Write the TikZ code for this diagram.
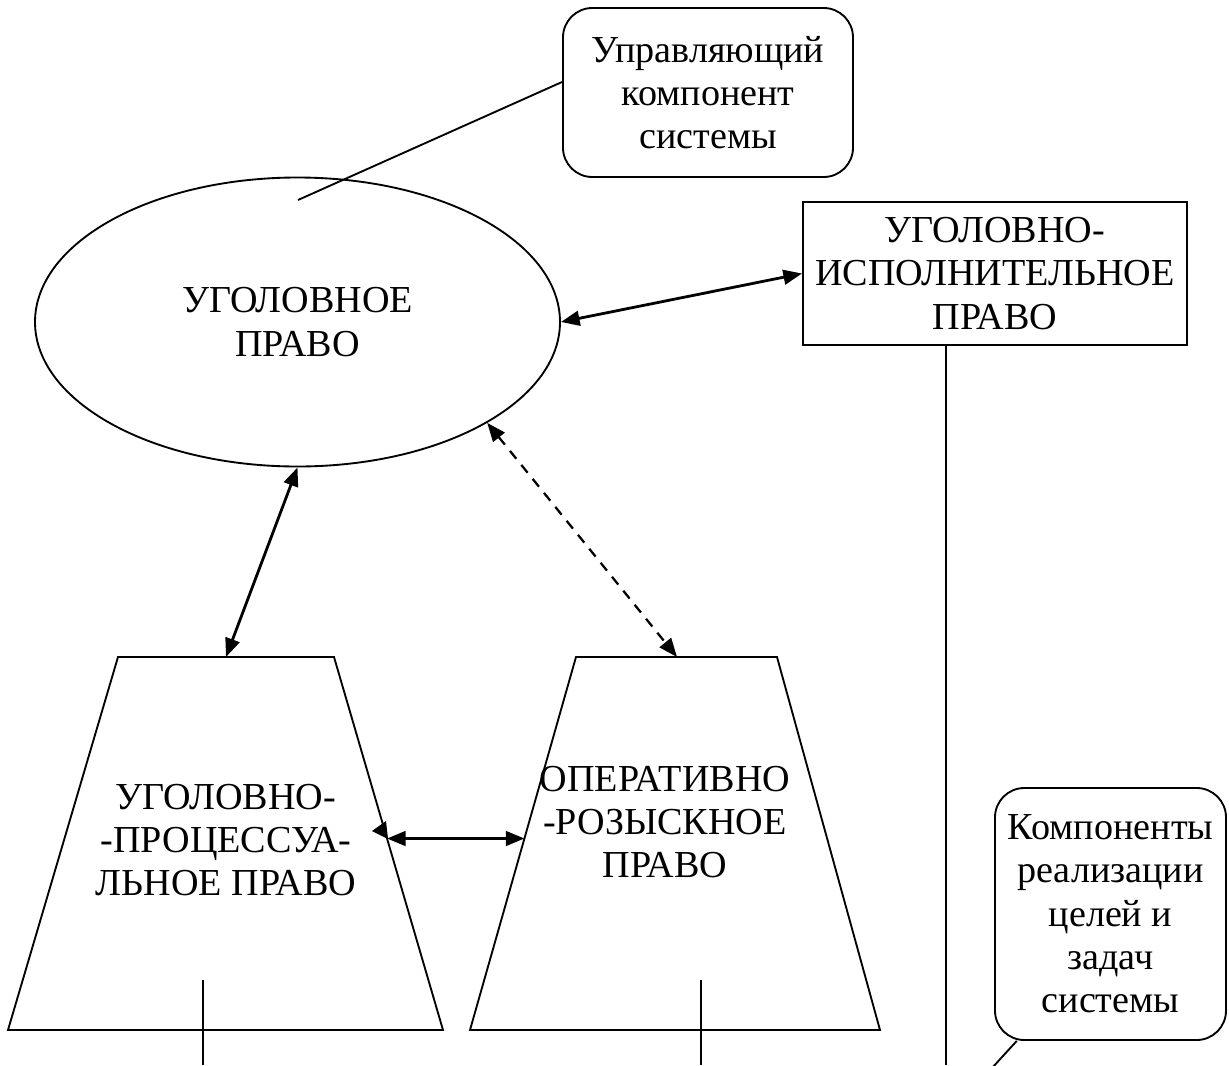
\documentclass[tikz,border=0pt]{standalone}
\usepackage{fontspec}
\setmainfont{Liberation Serif}
\usetikzlibrary{shapes.geometric,arrows.meta,calc}
\begin{document}
\begin{tikzpicture}[x=0.75pt,y=-0.75pt,
  lbl/.style={font=\fontsize{28.6}{32.5}\selectfont, align=center, inner sep=0pt},
  shp/.style={draw, line width=1.4pt},
  tip/.tip={Triangle[length=14pt,width=11pt]},
  conn/.style={line width=2.1pt, {tip}-{tip}},
  dconn/.style={line width=1.7pt, dash pattern=on 7.5pt off 6pt, {tip}-{tip}}]
\useasboundingbox (0,0) rectangle (1229,1065);

% callouts and boxes
\node[shp, lbl, rounded corners=22pt, minimum width=217.5pt, minimum height=126.75pt] (callA) at (708,92.5) {Управляющий\\компонент\\системы};
\node[shp, lbl, minimum width=288pt, minimum height=107.25pt] (ugIsp) at (995,273.5) {УГОЛОВНО-\\ИСПОЛНИТЕЛЬНОЕ\\ПРАВО};
\node[shp, lbl, ellipse, minimum width=393.75pt, minimum height=216.75pt] (ugol) at (297.5,322) {УГОЛОВНОЕ\\ПРАВО};
\node[shp, lbl, rounded corners=22pt, minimum width=173.25pt, minimum height=189pt] (callB) at (1110.5,914) {Компоненты\\реализации\\целей и\\задач\\системы};

% trapezoids
\coordinate (t1tl) at (118,657); \coordinate (t1tr) at (334,657);
\coordinate (t1br) at (443,1030); \coordinate (t1bl) at (8,1030);
\draw[shp] (t1tl) -- (t1tr) -- (t1br) -- (t1bl) -- cycle;
\node[lbl] (t1txt) at (226,840) {УГОЛОВНО-\\-ПРОЦЕССУА-\\ЛЬНОЕ ПРАВО};

\coordinate (t2tl) at (576,657); \coordinate (t2tr) at (777,657);
\coordinate (t2br) at (880,1030); \coordinate (t2bl) at (470,1030);
\draw[shp] (t2tl) -- (t2tr) -- (t2br) -- (t2bl) -- cycle;
\node[lbl] (t2txt) at (665,822) {ОПЕРАТИВНО\\-РОЗЫСКНОЕ\\ПРАВО};

% callout tails
\coordinate (tailA) at (298,200);
\draw[shp] ([yshift=7.9pt]callA.west) -- (tailA);
\coordinate (tailB) at (992,1068);
\draw[shp] ([xshift=17pt]callB.south west) -- (tailB);

% connectors
\coordinate (t1top) at ($(t1tl)!0.5!(t1tr)$);
\draw[conn] (ugol.south) -- (t1top);
\coordinate (t2top) at (677,657);
\draw[dconn] (ugol.-28.5) -- (t2top);
\draw[conn] (ugol.east) -- (ugIsp.west);
\coordinate (h1) at ($(t1tr)!0.4866!(t1br)$);
\coordinate (h2) at ($(t2tl)!0.4866!(t2bl)$);
\draw[conn] (h1) -- (h2);
\fill (372,831) -- (386,821) -- (388,839) -- cycle;

% lines going down
\coordinate (b1t) at (203,980); \coordinate (b1) at (203,1065);
\draw[shp] (b1t) -- (b1);
\coordinate (b2t) at (701,980); \coordinate (b2) at (701,1065);
\draw[shp] (b2t) -- (b2);
\coordinate (vr) at (946,1065);
\draw[shp] (vr |- ugIsp.south) -- (vr);
\end{tikzpicture}
\end{document}
